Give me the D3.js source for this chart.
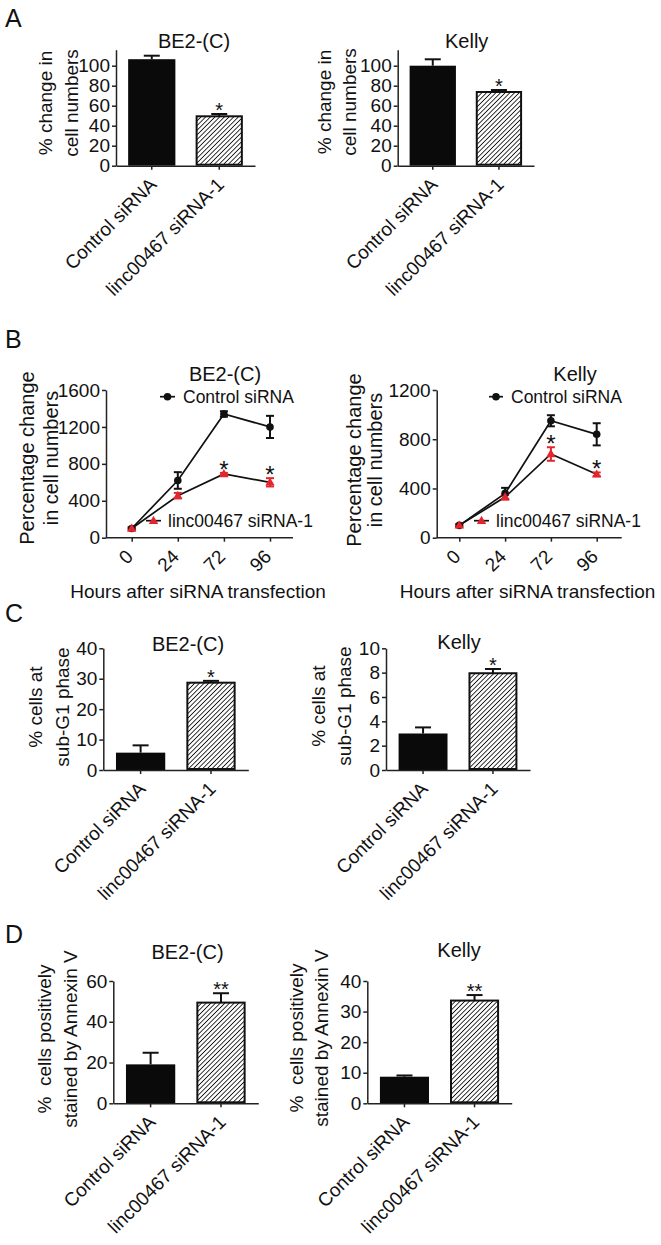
<!DOCTYPE html>
<html>
<head>
<meta charset="utf-8">
<script src="https://cdn.jsdelivr.net/npm/d3@7"></script>
<style>
  body { margin: 0; background: #fff; }
  svg text { font-family: "Liberation Sans", Arial, sans-serif; fill: #111; }
</style>
</head>
<body>
<svg id="fig" width="661" height="1245"></svg>
<script>
// ---- data ----
var groups = ["Control siRNA", "linc00467 siRNA-1"]
var hours = ["0", "24", "72", "96"]

// A: % change in cell numbers
var aBe2 = [106.5, 49.4], aBe2Err = [3.5, 2.3], aBe2Sig = ["", "*"]
var aKelly = [100, 73.7], aKellyErr = [6.4, 2.0], aKellySig = ["", "*"]

// B: percentage change in cell numbers over time
var bBe2Ctrl = [100, 620, 1340, 1200], bBe2CtrlErr = [12, 90, 30, 120]
var bBe2Linc = [100, 455, 690, 600], bBe2LincErr = [10, 30, 12, 45]
var bBe2Sig = ["", "", "*", "*"]
var bKellyCtrl = [100, 360, 950, 840], bKellyCtrlErr = [10, 45, 45, 90]
var bKellyLinc = [100, 330, 680, 515], bKellyLincErr = [10, 20, 55, 15]
var bKellySig = ["", "", "*", "*"]

// C: % cells at sub-G1 phase
var cBe2 = [5.7, 28.7], cBe2Err = [2.4, 0.6], cBe2Sig = ["", "*"]
var cKelly = [3.0, 7.95], cKellyErr = [0.5, 0.35], cKellySig = ["", "*"]

// D: % cells positively stained by Annexin V
var dBe2 = [19.1, 49.4], dBe2Err = [5.7, 4.6], dBe2Sig = ["", "**"]
var dKelly = [8.7, 33.6], dKellyErr = [0.4, 1.8], dKellySig = ["", "**"]

var red = "#e3262e"
var svg = d3.select("#fig")

// hatch pattern for the siRNA bars
var pat = svg.append("defs").append("pattern")
    .attr("id", "hatch")
    .attr("patternUnits", "userSpaceOnUse")
    .attr("width", 3.3)
    .attr("height", 3.3)
    .attr("patternTransform", "rotate(45)")
pat.append("rect").attr("width", 3.3).attr("height", 3.3).attr("fill", "#fff")
pat.append("line").attr("x1", 0).attr("y1", 0).attr("x2", 0).attr("y2", 3.3)
    .attr("stroke", "#111").attr("stroke-width", 1.7)

function styleAxis(ax) {
    ax.attr("font-size", 19)
    ax.selectAll("path, line").attr("stroke", "#222").attr("stroke-width", 1.5)
}

function yLabel(lines, xs, yc, size) {
    lines.forEach((t, i) => {
        svg.append("text")
            .attr("transform", `translate(${xs[i]},${yc}) rotate(-90)`)
            .attr("text-anchor", "middle")
            .style("font-size", size + "px")
            .style("white-space", "pre")
            .text(t)
    })
}

function title(t, x, y) {
    svg.append("text").attr("x", x).attr("y", y)
        .attr("text-anchor", "middle").style("font-size", "20px").text(t)
}

function panelLetter(t, y) {
    svg.append("text").attr("x", 5).attr("y", y).style("font-size", "25px").text(t)
}

function barChart(o) {
    var y = d3.scaleLinear().domain([0, o.max]).range([o.y0, o.yTop])
    var x = d3.scaleBand().domain(groups).range([o.x0, o.x1])
        .paddingInner(0.3).paddingOuter(0.18)

    var rows = groups.map((g, i) => ({ g: g, v: o.vals[i], e: o.errs[i], s: o.sig[i], i: i }))

    // error bars (upper only)
    svg.selectAll(null).data(rows).enter().append("line")
        .attr("x1", d => x(d.g) + x.bandwidth() / 2)
        .attr("x2", d => x(d.g) + x.bandwidth() / 2)
        .attr("y1", d => y(d.v))
        .attr("y2", d => y(d.v + d.e))
        .attr("stroke", "#111").attr("stroke-width", 2)
    svg.selectAll(null).data(rows).enter().append("line")
        .attr("x1", d => x(d.g) + x.bandwidth() / 2 - 8)
        .attr("x2", d => x(d.g) + x.bandwidth() / 2 + 8)
        .attr("y1", d => y(d.v + d.e))
        .attr("y2", d => y(d.v + d.e))
        .attr("stroke", "#111").attr("stroke-width", 2)

    svg.selectAll(null).data(rows).enter().append("rect")
        .attr("x", d => x(d.g) + (d.i ? 1 : 0))
        .attr("y", d => y(d.v))
        .attr("width", d => x.bandwidth() - (d.i ? 2 : 0))
        .attr("height", d => o.y0 - y(d.v) - (d.i ? 1 : 0))
        .attr("fill", d => d.i ? "url(#hatch)" : "#0a0a0a")
        .attr("stroke", "#111")
        .attr("stroke-width", d => d.i ? 2 : 0)

    svg.selectAll(null).data(rows).enter().append("text")
        .attr("x", d => x(d.g) + x.bandwidth() / 2)
        .attr("y", d => y(d.v + d.e) + 3)
        .attr("text-anchor", "middle")
        .style("font-size", "20px")
        .text(d => d.s)

    var ya = svg.append("g").attr("transform", `translate(${o.x0},0)`)
        .call(d3.axisLeft(y).tickValues(o.ticks).tickFormat(d3.format("d"))
            .tickSize(4).tickPadding(2).tickSizeOuter(0))
    styleAxis(ya)

    var xa = svg.append("g").attr("transform", `translate(0,${o.y0})`)
        .call(d3.axisBottom(x).tickSize(4).tickSizeOuter(0))
    styleAxis(xa)
    xa.selectAll(".tick text")
        .attr("x", 0).attr("y", 0).attr("dy", null)
        .attr("text-anchor", "end")
        .attr("transform", "translate(6,20) rotate(-45)")

    title(o.title, o.tx, o.ty)
    yLabel(o.ylab, o.ylx, o.yly, 19)
}

function lineChart(o) {
    var y = d3.scaleLinear().domain([0, o.max]).range([o.y0, o.yTop])
    var x = d3.scalePoint().domain(hours).range([o.p0, o.p1])

    var series = [
        { vals: o.ctrl, errs: o.ctrlErr, col: "#111", sym: "circle" },
        { vals: o.linc, errs: o.lincErr, col: red, sym: "tri" }
    ]
    var line = d3.line().x(d => x(d.h)).y(d => y(d.v))

    series.forEach(s => {
        var pts = hours.map((h, i) => ({ h: h, v: s.vals[i], e: s.errs[i] }))
        svg.append("path").datum(pts).attr("d", line)
            .attr("fill", "none").attr("stroke", "#111").attr("stroke-width", 1.7)
        s.pts = pts
    })

    series.forEach(s => {
        var eb = svg.selectAll(null).data(s.pts).enter().append("g")
            .attr("stroke", s.col).attr("stroke-width", 2)
        eb.append("line")
            .attr("x1", d => x(d.h)).attr("x2", d => x(d.h))
            .attr("y1", d => y(d.v - d.e)).attr("y2", d => y(d.v + d.e))
        eb.append("line")
            .attr("x1", d => x(d.h) - 4).attr("x2", d => x(d.h) + 4)
            .attr("y1", d => y(d.v + d.e)).attr("y2", d => y(d.v + d.e))
        eb.append("line")
            .attr("x1", d => x(d.h) - 4).attr("x2", d => x(d.h) + 4)
            .attr("y1", d => y(d.v - d.e)).attr("y2", d => y(d.v - d.e))
    })

    series.forEach(s => {
        if (s.sym == "circle") {
            svg.selectAll(null).data(s.pts).enter().append("circle")
                .attr("cx", d => x(d.h)).attr("cy", d => y(d.v)).attr("r", 3.8)
                .attr("fill", s.col)
        } else {
            svg.selectAll(null).data(s.pts).enter().append("path")
                .attr("d", d3.symbol(d3.symbolTriangle).size(38))
                .attr("transform", d => `translate(${x(d.h)},${y(d.v) + 0.5})`)
                .attr("fill", s.col)
        }
    })

    // significance marks above the siRNA points
    svg.selectAll(null).data(hours).enter().append("text")
        .attr("x", h => x(h))
        .attr("y", (h, i) => y(o.linc[i] + o.lincErr[i]) + 5)
        .attr("text-anchor", "middle")
        .style("font-size", "24px")
        .text((h, i) => o.sig[i])

    var ya = svg.append("g").attr("transform", `translate(${o.x0},0)`)
        .call(d3.axisLeft(y).tickValues(o.ticks).tickFormat(d3.format("d"))
            .tickSize(4).tickPadding(2).tickSizeOuter(0))
    styleAxis(ya)

    var xa = svg.append("g").attr("transform", `translate(0,${o.y0})`)
        .call(d3.axisBottom(x).tickSize(4).tickSizeOuter(0))
    xa.select(".domain").attr("d", `M${o.x0},0H${o.x1}`)
    styleAxis(xa)
    xa.selectAll(".tick text")
        .attr("x", 0).attr("y", 0).attr("dy", null)
        .attr("text-anchor", "end")
        .attr("transform", "translate(2,20) rotate(-45)")

    title(o.title, o.tx, o.ty)

    // legend
    var lg = o.leg
    svg.append("line").attr("x1", lg.c[0]).attr("x2", lg.c[1]).attr("y1", lg.c[2]).attr("y2", lg.c[2])
        .attr("stroke", "#111").attr("stroke-width", 1.7)
    svg.append("circle").attr("cx", (lg.c[0] + lg.c[1]) / 2).attr("cy", lg.c[2]).attr("r", 3.8).attr("fill", "#111")
    svg.append("text").attr("x", lg.c[1] + 8).attr("y", lg.c[2] + 6).style("font-size", "17.5px").text(groups[0])
    svg.append("line").attr("x1", lg.l[0]).attr("x2", lg.l[1]).attr("y1", lg.l[2]).attr("y2", lg.l[2])
        .attr("stroke", "#111").attr("stroke-width", 1.7)
    svg.append("path").attr("d", d3.symbol(d3.symbolTriangle).size(38))
        .attr("transform", `translate(${(lg.l[0] + lg.l[1]) / 2},${lg.l[2] + 0.5})`).attr("fill", red)
    svg.append("text").attr("x", lg.l[1] + 7).attr("y", lg.l[2] + 6).style("font-size", "17.5px").text(groups[1])

    yLabel(["Percentage change", "in cell numbers"], o.ylx, o.yly, 20)
    svg.append("text").attr("x", o.xtx).attr("y", 598).attr("text-anchor", "middle")
        .style("font-size", "19px").text("Hours after siRNA transfection")
}

// ---- panel A ----
panelLetter("A", 27)
barChart({ vals: aBe2, errs: aBe2Err, sig: aBe2Sig, max: 116, ticks: [0, 20, 40, 60, 80, 100],
    x0: 116, x1: 255, y0: 165.7, yTop: 49.7, title: "BE2-(C)", tx: 194, ty: 48,
    ylab: ["% change in", "cell numbers"], ylx: [52, 78], yly: 103 })
barChart({ vals: aKelly, errs: aKellyErr, sig: aKellySig, max: 116, ticks: [0, 20, 40, 60, 80, 100],
    x0: 397.7, x1: 534, y0: 165.7, yTop: 49.7, title: "Kelly", tx: 466.7, ty: 48,
    ylab: ["% change in", "cell numbers"], ylx: [331, 356], yly: 102 })

// ---- panel B ----
panelLetter("B", 348)
lineChart({ ctrl: bBe2Ctrl, ctrlErr: bBe2CtrlErr, linc: bBe2Linc, lincErr: bBe2LincErr, sig: bBe2Sig,
    max: 1600, ticks: [0, 400, 800, 1200, 1600], x0: 106, x1: 293, p0: 131.7, p1: 270,
    y0: 537.7, yTop: 390, title: "BE2-(C)", tx: 225, ty: 381,
    leg: { c: [160, 175, 396.7], l: [146, 161, 520.7] }, ylx: [34, 58], yly: 458, xtx: 198 })
lineChart({ ctrl: bKellyCtrl, ctrlErr: bKellyCtrlErr, linc: bKellyLinc, lincErr: bKellyLincErr, sig: bKellySig,
    max: 1200, ticks: [0, 400, 800, 1200], x0: 436.7, x1: 621.7, p0: 459.3, p1: 596.7,
    y0: 537.7, yTop: 390, title: "Kelly", tx: 575, ty: 381,
    leg: { c: [489, 503, 396.7], l: [474, 489, 520.7] }, ylx: [361, 382], yly: 460, xtx: 527.5 })

// ---- panel C ----
panelLetter("C", 622)
barChart({ vals: cBe2, errs: cBe2Err, sig: cBe2Sig, max: 40, ticks: [0, 10, 20, 30, 40],
    x0: 103.3, x1: 248.3, y0: 770, yTop: 648.3, title: "BE2-(C)", tx: 188, ty: 651,
    ylab: ["% cells at", "sub-G1 phase"], ylx: [42, 69], yly: 707 })
barChart({ vals: cKelly, errs: cKellyErr, sig: cKellySig, max: 10, ticks: [0, 2, 4, 6, 8, 10],
    x0: 386, x1: 530, y0: 770, yTop: 648.3, title: "Kelly", tx: 459, ty: 649,
    ylab: ["% cells at", "sub-G1 phase"], ylx: [325, 351], yly: 706 })

// ---- panel D ----
panelLetter("D", 943)
barChart({ vals: dBe2, errs: dBe2Err, sig: dBe2Sig, max: 60, ticks: [0, 20, 40, 60],
    x0: 113.3, x1: 258.3, y0: 1103.3, yTop: 981, title: "BE2-(C)", tx: 187.5, ty: 959,
    ylab: ["%  cells positively", "stained by Annexin V"], ylx: [51, 77], yly: 1039 })
barChart({ vals: dKelly, errs: dKellyErr, sig: dKellySig, max: 40, ticks: [0, 10, 20, 30, 40],
    x0: 367.3, x1: 511.7, y0: 1103.3, yTop: 981, title: "Kelly", tx: 459, ty: 957,
    ylab: ["%  cells positively", "stained by Annexin V"], ylx: [303, 328], yly: 1038 })
</script>
</body>
</html>
